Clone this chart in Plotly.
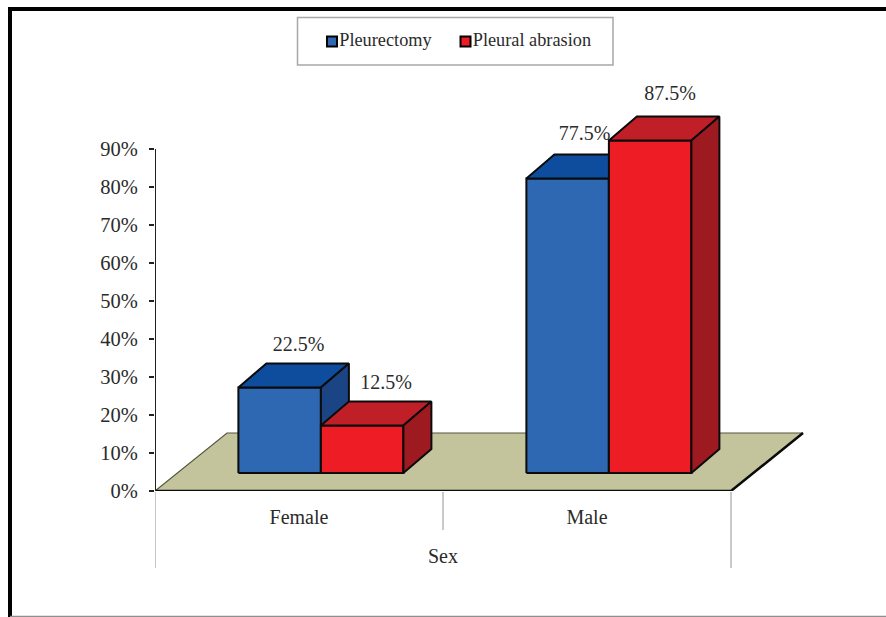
import plotly.graph_objects as go

# Survey data: share of patients by sex for each procedure
categories = ["Female", "Male"]
series_names = ["Pleurectomy", "Pleural abrasion"]
pleurectomy = [22.5, 77.5]
pleural_abrasion = [12.5, 87.5]
y_ticks = [0, 10, 20, 30, 40, 50, 60, 70, 80, 90]
y_tick_labels = [f"{v}%" for v in y_ticks]
x_title = "Sex"

W, H = 886, 617
FONT = "Liberation Serif"
TEXT = "#2b2b2b"

# Oblique projection, in axis units
PX_PER_CAT = 288.0
PX_PER_PCT = 3.8
FLOOR_DX, FLOOR_DY = 72 / PX_PER_CAT, 58 / PX_PER_PCT
BAR_DX, BAR_DY = 28 / PX_PER_CAT, 24 / PX_PER_PCT
BAR_BASE = 18 / PX_PER_PCT
BAR_W = 82.5 / PX_PER_CAT
GROUP_SHIFT = 0.076

# Face colours: front, top, side
BLUE = ("#2e68b2", "#0e4c9d", "#1a4483")
RED = ("#ee1d25", "#c01f28", "#9d1b20")
FLOOR = "#c3c39c"
EDGE = "#0b0b0b"


def poly(xs, ys, fill, width=2, color=EDGE):
    return go.Scatter(
        x=xs + xs[:1], y=ys + ys[:1], mode="lines", fill="toself", fillcolor=fill,
        line=dict(color=color, width=width), hoverinfo="skip", showlegend=False,
        cliponaxis=False,
    )


def edge(xs, ys, width=2.5, color=EDGE):
    return go.Scatter(
        x=xs, y=ys, mode="lines", line=dict(color=color, width=width),
        hoverinfo="skip", showlegend=False, cliponaxis=False,
    )


def bar_faces(x0, value, colors):
    x1 = x0 + BAR_W
    top = BAR_BASE + value
    return [
        poly([x0, x1, x1, x0], [BAR_BASE, BAR_BASE, top, top], colors[0]),
        poly([x0, x1, x1 + BAR_DX, x0 + BAR_DX], [top, top, top + BAR_DY, top + BAR_DY], colors[1]),
        poly([x1, x1 + BAR_DX, x1 + BAR_DX, x1], [BAR_BASE, BAR_BASE + BAR_DY, top + BAR_DY, top], colors[2]),
    ]


def value_label(x0, value, nudge_x, nudge_y):
    return go.Scatter(
        x=[x0 + (BAR_W + BAR_DX) / 2 + nudge_x / PX_PER_CAT],
        y=[BAR_BASE + value + BAR_DY + nudge_y / PX_PER_PCT],
        mode="text", text=[f"{value}%"], textposition="middle center",
        textfont=dict(family=FONT, size=20, color=TEXT),
        hoverinfo="skip", showlegend=False, cliponaxis=False,
    )


def key_entry(name, colors, px_x, px_y):
    # One legend row: swatch with its name to the right, placed inside the key box
    return go.Scatter(
        x=[(px_x - 155) / PX_PER_CAT], y=[(491 - px_y) / PX_PER_PCT],
        mode="markers+text", text=[name], textposition="middle right",
        textfont=dict(family=FONT, size=18.3, color=TEXT),
        marker=dict(symbol="square", size=10, color=colors[0], line=dict(color="#000000", width=2)),
        name=name, hoverinfo="skip", showlegend=False, cliponaxis=False,
    )


fig = go.Figure()

# Floor plane
n = len(categories)
fig.add_trace(poly([0, n, n + FLOOR_DX, FLOOR_DX], [0, 0, FLOOR_DY, FLOOR_DY], FLOOR, width=1.2, color="#55553f"))
fig.add_trace(edge([0, n, n + FLOOR_DX], [0, 0, FLOOR_DY]))

# Vertical axis line
fig.add_trace(edge([0, 0], [0, y_ticks[-1]], width=2, color="#222222"))

# Bars, back to front within each category
label_nudges = {(0, 0): (5, 18), (0, 1): (10, 18), (1, 0): (3, 20), (1, 1): (6, 22)}
for i in range(n):
    for j, (values, colors) in enumerate(((pleurectomy, BLUE), (pleural_abrasion, RED))):
        x0 = i + 0.5 + GROUP_SHIFT - BAR_W + j * BAR_W
        for face in bar_faces(x0, values[i], colors):
            fig.add_trace(face)
        fig.add_trace(value_label(x0, values[i], *label_nudges[(i, j)]))

# Key
fig.add_trace(key_entry(series_names[0], BLUE, 332, 41.5))
fig.add_trace(key_entry(series_names[1], RED, 465.5, 41.5))

# Grey category dividers below the axis, and the frame and key box
shapes = []
for x, y_end in ((0, 568), (1, 530), (2, 568)):
    shapes.append(dict(type="line", xref="x", yref="paper", x0=x, x1=x,
                       y0=(H - 492) / H, y1=(H - y_end) / H,
                       line=dict(color="#c9c9c9", width=2)))
shapes.append(dict(type="path", xref="paper", yref="paper",
                   path=f"M {10/W} 0 L {10/W} {(H-9)/H} L 1 {(H-9)/H}",
                   line=dict(color="#000000", width=4)))
shapes.append(dict(type="line", xref="paper", yref="paper", x0=10 / W, x1=1, y0=0.5 / H, y1=0.5 / H,
                   line=dict(color="#8f8f8f", width=1.5)))
shapes.append(dict(type="rect", xref="paper", yref="paper",
                   x0=297.5 / W, x1=613 / W, y0=(H - 65) / H, y1=(H - 17.5) / H,
                   line=dict(color="#a8a8a8", width=1.5), fillcolor="rgba(0,0,0,0)"))

fig.update_layout(
    width=W, height=H, margin=dict(l=0, r=0, t=0, b=0),
    paper_bgcolor="white", plot_bgcolor="white",
    font=dict(family=FONT, color=TEXT),
    shapes=shapes,
    showlegend=False,
    # The axis title sits under the central divider rather than mid-domain
    annotations=[dict(
        text=x_title, xref="x", yref="paper", x=n / 2, y=(H - 556) / H,
        xanchor="center", yanchor="middle", showarrow=False,
        font=dict(family=FONT, size=20, color=TEXT),
    )],
    xaxis=dict(
        domain=[155 / W, 1], range=[0, (W - 155) / PX_PER_CAT], automargin=False,
        tickmode="array", tickvals=[i + 0.5 for i in range(n)], ticktext=categories,
        ticks="", ticklabelstandoff=12, tickfont=dict(family=FONT, size=20, color=TEXT),
        showgrid=False, zeroline=False, showline=False,
    ),
    yaxis=dict(
        domain=[(H - 491) / H, 1], range=[0, 491 / PX_PER_PCT], automargin=False,
        tickmode="array", tickvals=y_ticks, ticktext=y_tick_labels,
        ticks="outside", ticklen=5, tickwidth=2, tickcolor="#222222", ticklabelstandoff=7,
        tickfont=dict(family=FONT, size=20.5, color=TEXT),
        showgrid=False, zeroline=False, showline=False,
    ),
)

fig.write_html("out.html")
